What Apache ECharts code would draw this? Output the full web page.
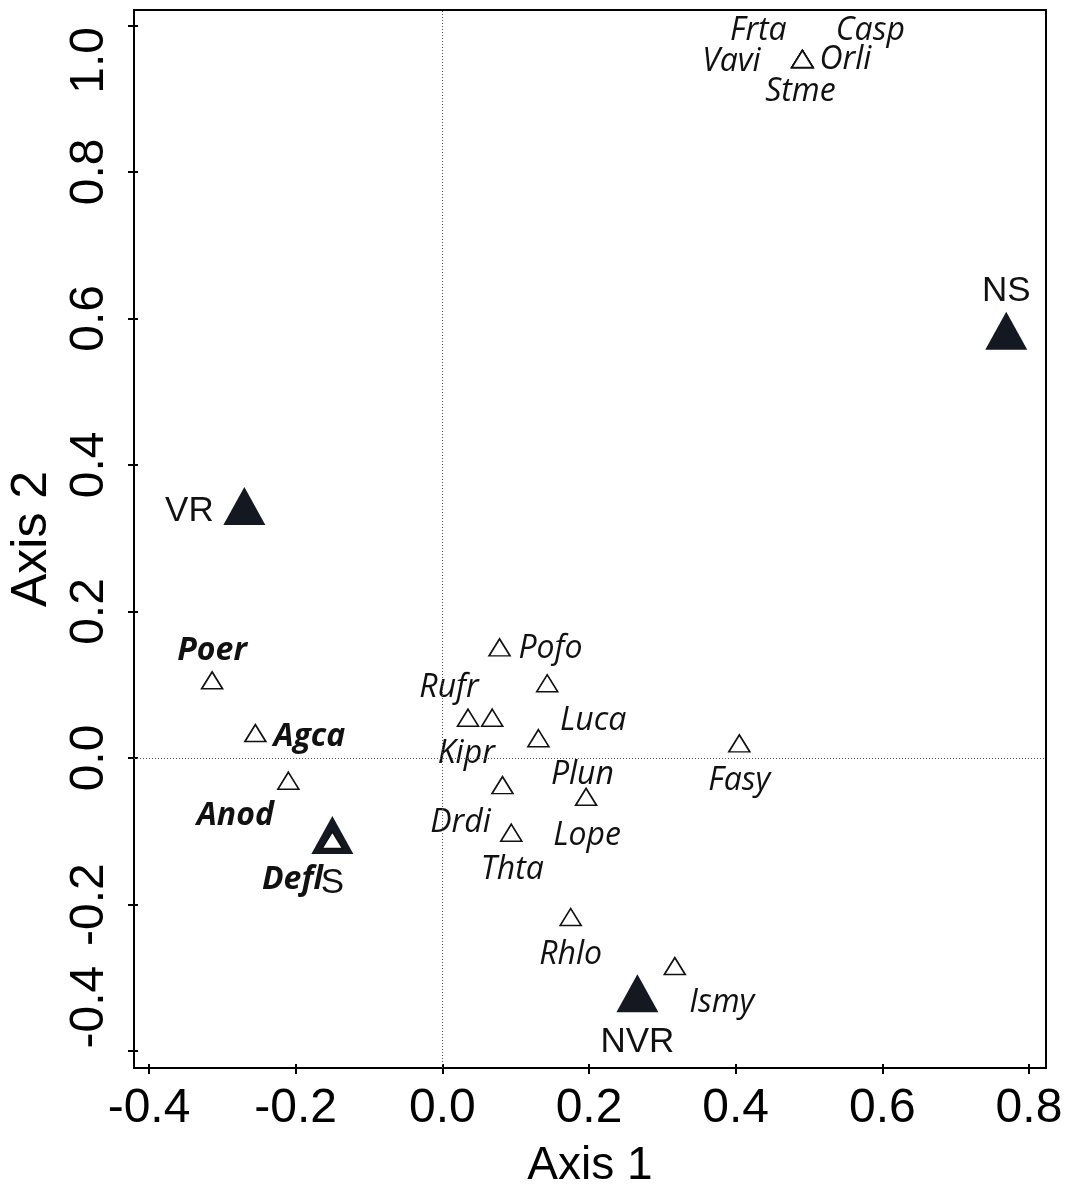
<!DOCTYPE html>
<html>
<head>
<meta charset="utf-8">
<script src="https://cdn.jsdelivr.net/npm/echarts@6/dist/echarts.min.js"></script>
<style>html,body{margin:0;padding:0;background:#fff;}#chart{width:1072px;height:1195px;}</style>
</head>
<body>
<div id="chart"></div>
<script>
// ---- data ----
const siteNames = ['VR', 'NS', 'NVR', 'S'];
const siteAxis1 = [-0.270, 0.769, 0.266, -0.150];
const siteAxis2 = [0.344, 0.583, -0.321, -0.105];

const speciesNames = ['Frta','Casp','Vavi','Orli','Stme','Poer','Agca','Anod','Defl','Pofo','Luca','Rufr','Kipr','Plun','Drdi','Lope','Thta','Fasy','Rhlo','Ismy'];
const speciesAxis1 = [0.491, 0.491, 0.491, 0.491, 0.491, -0.314, -0.255, -0.210, -0.150, 0.078, 0.143, 0.035, 0.068, 0.131, 0.082, 0.196, 0.094, 0.405, 0.175, 0.317];
const speciesAxis2 = [0.954, 0.954, 0.954, 0.954, 0.954, 0.106, 0.034, -0.031, -0.112, 0.151, 0.102, 0.055, 0.055, 0.027, -0.037, -0.053, -0.102, 0.020, -0.217, -0.284];
const boldSpecies = ['Poer','Agca','Anod','Defl'];

const xTicks = [-0.4, -0.2, 0.0, 0.2, 0.4, 0.6, 0.8];
const yTicks = [-0.4, -0.2, 0.0, 0.2, 0.4, 0.6, 0.8, 1.0];

// ---- label placement (pixel offsets, style only) ----
const siteLabelOffset = {VR: [-55, 5], NS: [0, -39], NVR: [0, 49], S: [0, 48]};
const speciesLabelOffset = {
  Frta: [-44, -28], Casp: [68, -28], Vavi: [-71, 3], Orli: [43, 1], Stme: [-2, 33],
  Poer: [0, -29], Agca: [54, 4], Anod: [-53, 35], Defl: [-40, 40],
  Pofo: [51, 2], Luca: [46, 38], Rufr: [-19, -30], Kipr: [-26, 36], Plun: [44, 37],
  Drdi: [-42, 38], Lope: [1, 39], Thta: [1, 37], Fasy: [0, 38], Rhlo: [0, 38], Ismy: [47, 37]
};

const chart = echarts.init(document.getElementById('chart'), null, {renderer: 'canvas'});

const siteData = siteNames.map((n, i) => ({
  value: [siteAxis1[i], siteAxis2[i]],
  name: n,
  label: {offset: siteLabelOffset[n]}
}));
const speciesData = speciesNames.map((n, i) => ({
  value: [speciesAxis1[i], speciesAxis2[i]],
  name: n,
  label: {offset: speciesLabelOffset[n], fontWeight: boldSpecies.includes(n) ? 'bold' : 'normal'}
}));

const axisFont = 'Liberation Sans, Arial, sans-serif';
const xMin = -0.4205, xMax = 0.8232, yMin = -0.4231, yMax = 1.0209;

chart.setOption({
  backgroundColor: '#fff',
  animation: false,
  grid: {left: 134, top: 10, right: 26, bottom: 127, containLabel: false, outerBoundsMode: 'none',
         show: true, borderColor: '#000', borderWidth: 2, backgroundColor: 'transparent'},
  xAxis: [{
    type: 'value', min: xMin, max: xMax,
    name: 'Axis 1', nameLocation: 'middle', nameGap: 75,
    nameTextStyle: {fontSize: 46, fontFamily: axisFont, color: '#000'},
    axisLine: {show: true, onZero: false, lineStyle: {color: '#000', width: 2}},
    axisTick: {show: true, customValues: xTicks, length: 6, lineStyle: {color: '#000', width: 2}},
    axisLabel: {customValues: xTicks, formatter: v => v.toFixed(1), fontSize: 48, fontFamily: axisFont, color: '#000', margin: 17},
    splitLine: {show: false}
  }, {
    type: 'value', min: xMin, max: xMax, position: 'bottom',
    axisLine: {show: false, onZero: false},
    axisTick: {show: true, inside: true, customValues: xTicks, length: 4, lineStyle: {color: '#000', width: 2}},
    axisLabel: {show: false}, splitLine: {show: false}
  }],
  yAxis: [{
    type: 'value', min: yMin, max: yMax,
    name: 'Axis 2', nameLocation: 'middle', nameGap: 77,
    nameTextStyle: {fontSize: 50, fontFamily: axisFont, color: '#000'},
    axisLine: {show: true, onZero: false, lineStyle: {color: '#000', width: 2}},
    axisTick: {show: true, customValues: yTicks, length: 6, lineStyle: {color: '#000', width: 2}},
    axisLabel: {
      customValues: yTicks, rotate: 90, fontSize: 48, fontFamily: axisFont, color: '#000', margin: 20,
      formatter: v => {
        const s = v.toFixed(1);
        if (Math.abs(v - 1.0) < 1e-9) return '{top|' + s + '}';
        if (Math.abs(v + 0.4) < 1e-9) return '{bot|' + s + '}';
        return s;
      },
      rich: {
        top: {fontSize: 48, fontFamily: axisFont, color: '#000', padding: [0, 70, 0, 0]},
        bot: {fontSize: 48, fontFamily: axisFont, color: '#000', padding: [0, 0, 0, 88]}
      }
    },
    splitLine: {show: false}
  }, {
    type: 'value', min: yMin, max: yMax, position: 'left',
    axisLine: {show: false, onZero: false},
    axisTick: {show: true, inside: true, customValues: yTicks, length: 4, lineStyle: {color: '#000', width: 2}},
    axisLabel: {show: false}, splitLine: {show: false}
  }],
  series: [
    {
      type: 'scatter', data: [], silent: true, z: 1,
      markLine: {
        silent: true, symbol: 'none', label: {show: false},
        lineStyle: {color: '#555', width: 1, type: [1, 2], opacity: 1},
        data: [{xAxis: 0}, {yAxis: 0}]
      }
    },
    {
      type: 'scatter', name: 'sites', data: siteData, z: 3,
      symbol: 'triangle', symbolSize: [42, 38],
      itemStyle: {color: '#141820', opacity: 1},
      label: {show: true, position: 'inside', formatter: p => p.name, fontSize: 35, fontFamily: axisFont, color: '#111'}
    },
    {
      type: 'scatter', name: 'species', data: speciesData, z: 4,
      symbol: 'triangle', symbolSize: [21, 17],
      itemStyle: {color: '#fff', borderColor: '#111', borderWidth: 1.6, opacity: 1},
      label: {show: true, position: 'inside', formatter: p => p.name, fontSize: 32, fontStyle: 'italic', fontFamily: 'Open Sans, Noto Sans, sans-serif', color: '#111'}
    }
  ]
});
</script>
</body>
</html>
